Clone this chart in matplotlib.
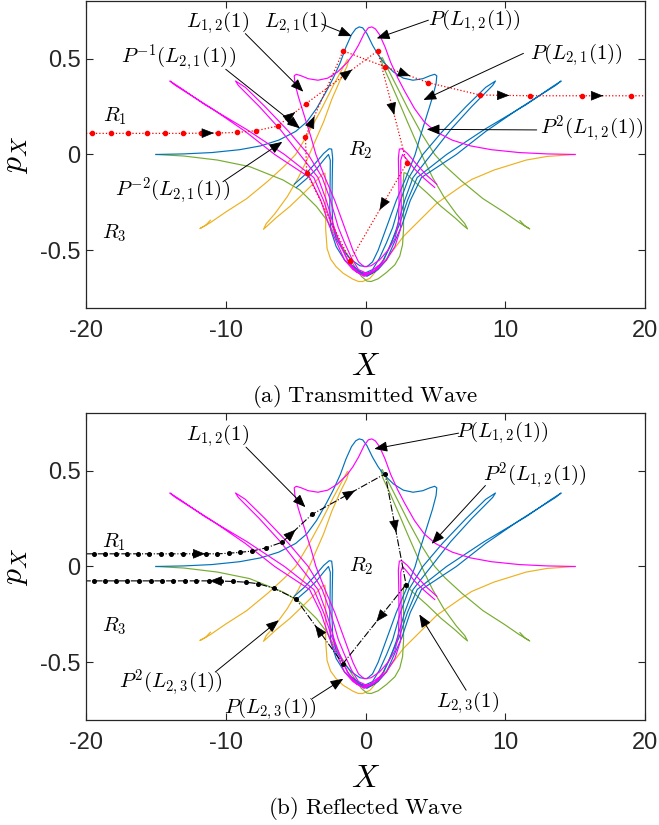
import matplotlib
matplotlib.use("Agg")
import matplotlib.pyplot as plt

plt.rcParams['mathtext.fontset'] = 'cm'
plt.rcParams['font.family'] = ['Liberation Sans', 'DejaVu Sans']

# ---------------- data ----------------
x_ticks = [-20, -10, 0, 10, 20]
x_tick_labels = ['-20', '-10', '0', '10', '20']
y_ticks = [-0.5, 0, 0.5]
y_tick_labels = ['-0.5', '0', '0.5']

# blue manifold pieces
blue1_x = [-15.0, -13.0, -11.0, -9.0, -7.5, -6.2, -5.0, -4.2, -3.5, -2.8, -2.3, -1.8, -1.4, -1.0, -0.7, -0.45, -0.2, 0.1, 0.5, 0.9,
           1.3, 2.0, 2.7, 3.4, 4.1, 4.6, 4.95, 5.1, 5.05, 4.8, 4.5, 4.2, 3.9, 3.55, 2.9, 2.2, 1.7, 1.3, 0.9, 0.5,
           0.1, -0.4, -1.0, -1.6, -2.1, -2.35, -2.4, -2.38, -2.35, -2.42, -2.6, -3.0, -3.7, -4.4, -5.1]
blue1_p = [0.0, 0.003, 0.01, 0.025, 0.045, 0.075, 0.12, 0.17, 0.24, 0.33, 0.40, 0.48, 0.56, 0.625, 0.655, 0.665, 0.66, 0.63, 0.57, 0.52,
           0.48, 0.43, 0.398, 0.387, 0.395, 0.41, 0.418, 0.41, 0.37, 0.30, 0.23, 0.16, 0.09, 0.0, -0.12, -0.24, -0.34, -0.42, -0.5, -0.56,
           -0.585, -0.58, -0.55, -0.5, -0.44, -0.36, -0.25, -0.12, -0.02, 0.028, 0.03, 0.005, -0.055, -0.11, -0.155]
blue2_x = [-4.95, -4.2, -3.5, -2.95, -2.65, -2.52, -2.53, -2.56, -2.5, -2.1, -1.5, -0.8, -0.1, 0.5, 1.0, 1.5, 1.95, 2.5, 3.1, 4.1,
           5.5, 7.2, 8.6, 9.3, 9.1, 7.6, 6.1, 4.7, 3.4, 2.8, 2.2, 1.75, 1.2, 0.6, 0.15, -0.3]
blue2_p = [-0.172, -0.125, -0.075, -0.025, 0.0, -0.03, -0.13, -0.28, -0.39, -0.48, -0.55, -0.6, -0.62, -0.6, -0.54, -0.46, -0.38, -0.24, -0.12, 0.0,
           0.12, 0.25, 0.35, 0.383, 0.36, 0.25, 0.13, 0.0, -0.12, -0.24, -0.39, -0.48, -0.56, -0.61, -0.63, -0.62]
blue3_x = [-1.3, -0.6, 0.1, 0.7, 1.3, 1.9, 2.4, 3.0, 3.7, 5.8, 8.5, 11.5, 13.3, 14.0, 13.6, 11.0, 8.6, 6.5, 4.0, 3.2,
           2.6, 2.05, 1.5, 0.9, 0.3, -0.3, -0.9]
blue3_p = [-0.55, -0.61, -0.635, -0.61, -0.55, -0.45, -0.37, -0.24, -0.12, 0.0, 0.13, 0.26, 0.35, 0.383, 0.36, 0.24, 0.12, 0.0, -0.12, -0.24,
           -0.37, -0.46, -0.55, -0.6, -0.625, -0.615, -0.58]

# magenta manifold pieces
mag1_x = [15.0, 13.0, 11.0, 9.0, 7.5, 6.2, 5.0, 4.2, 3.5, 2.8, 2.3, 1.8, 1.4, 1.0, 0.7, 0.45, 0.2, -0.1, -0.5, -0.9,
          -1.3, -2.0, -2.7, -3.4, -4.1, -4.6, -4.95, -5.1, -5.05, -4.8, -4.5, -4.2, -3.9, -3.55, -2.9, -2.2, -1.7, -1.3, -0.9, -0.5,
          -0.1, 0.4, 1.0, 1.6, 2.1, 2.35, 2.4, 2.38, 2.35, 2.42, 2.6, 3.0, 3.7, 4.4, 5.1]
mag1_p = [0.0, 0.003, 0.01, 0.025, 0.045, 0.075, 0.12, 0.17, 0.24, 0.33, 0.40, 0.48, 0.56, 0.625, 0.655, 0.665, 0.66, 0.63, 0.57, 0.52,
          0.48, 0.43, 0.398, 0.387, 0.395, 0.41, 0.418, 0.41, 0.37, 0.30, 0.23, 0.16, 0.09, 0.0, -0.12, -0.24, -0.34, -0.42, -0.5, -0.56,
          -0.585, -0.58, -0.55, -0.5, -0.44, -0.36, -0.25, -0.12, -0.02, 0.028, 0.03, 0.005, -0.055, -0.11, -0.155]
mag2_x = [4.95, 4.2, 3.5, 2.95, 2.65, 2.52, 2.53, 2.56, 2.5, 2.1, 1.5, 0.8, 0.1, -0.5, -1.0, -1.5, -1.95, -2.5, -3.1, -4.1,
          -5.5, -7.2, -8.6, -9.3, -9.1, -7.6, -6.1, -4.7, -3.4, -2.8, -2.2, -1.75, -1.2, -0.6, -0.15, 0.3]
mag2_p = [-0.172, -0.125, -0.075, -0.025, 0.0, -0.03, -0.13, -0.28, -0.39, -0.48, -0.55, -0.6, -0.62, -0.6, -0.54, -0.46, -0.38, -0.24, -0.12, 0.0,
          0.12, 0.25, 0.35, 0.383, 0.36, 0.25, 0.13, 0.0, -0.12, -0.24, -0.39, -0.48, -0.56, -0.61, -0.63, -0.62]
mag3_x = [1.3, 0.6, -0.1, -0.7, -1.3, -1.9, -2.4, -3.0, -3.7, -5.8, -8.5, -11.5, -13.3, -14.0, -13.6, -11.0, -8.6, -6.5, -4.0, -3.2,
          -2.6, -2.05, -1.5, -0.9, -0.3, 0.3, 0.9]
mag3_p = [-0.55, -0.61, -0.635, -0.61, -0.55, -0.45, -0.37, -0.24, -0.12, 0.0, 0.13, 0.26, 0.35, 0.383, 0.36, 0.24, 0.12, 0.0, -0.12, -0.24,
          -0.37, -0.46, -0.55, -0.6, -0.625, -0.615, -0.58]

# green manifold
green_x = [-15.0, -13.0, -10.6, -8.3, -5.9, -4.7, -3.5, -2.78, -2.1, -1.5, -0.9, -0.3, 0.1, 0.4, 0.9, 1.5, 2.1, 2.45, 2.65,
           2.72, 2.72, 2.7, 2.75, 2.9, 3.4, 4.4, 5.4, 6.4, 7.0, 7.3, 7.1, 6.5, 5.6, 4.8, 4.2, 3.6, 3.0, 2.3, 1.7,
           1.25, 1.1, 1.2, 1.5, 2.2, 3.1, 4.0, 4.95, 5.7, 6.9, 8.4, 9.9, 11.0, 11.75, 11.4, 11.05]
green_p = [0.0, -0.008, -0.029, -0.063, -0.133, -0.185, -0.272, -0.341, -0.43, -0.5, -0.57, -0.635, -0.66, -0.662, -0.648, -0.615, -0.575, -0.53, -0.47,
           -0.39, -0.25, -0.14, -0.095, -0.098, -0.135, -0.2, -0.27, -0.33, -0.37, -0.388, -0.36, -0.31, -0.22, -0.12, -0.03, 0.07, 0.17, 0.29, 0.39,
           0.46, 0.5, 0.505, 0.46, 0.36, 0.23, 0.11, 0.0, -0.06, -0.14, -0.23, -0.30, -0.355, -0.388, -0.372, -0.345]
# yellow manifold
yellow_x = [15.0, 13.0, 11.5, 9.2, 7.6, 6.8, 5.1, 3.9, 2.7, 2.0, 1.04, 0.32, -0.2, -0.5, -0.9, -1.6, -2.1, -2.5, -2.75,
            -2.85, -2.85, -2.85, -2.9, -3.05, -3.5, -4.4, -5.4, -6.4, -7.0, -7.3, -7.1, -6.5, -5.6, -4.8, -4.2, -3.6, -3.0, -2.4, -1.8,
            -1.35, -1.2, -1.3, -1.6, -2.3, -3.2, -4.1, -5.0, -5.8, -7.0, -8.5, -10.0, -11.1, -11.85, -11.45, -11.1]
yellow_p = [0.0, -0.01, -0.029, -0.081, -0.13, -0.168, -0.254, -0.341, -0.428, -0.497, -0.584, -0.645, -0.662, -0.662, -0.65, -0.619, -0.585, -0.545, -0.49,
            -0.39, -0.25, -0.14, -0.098, -0.1, -0.135, -0.2, -0.27, -0.33, -0.37, -0.39, -0.36, -0.31, -0.22, -0.12, -0.03, 0.07, 0.17, 0.29, 0.39,
            0.455, 0.49, 0.495, 0.455, 0.36, 0.23, 0.11, 0.0, -0.06, -0.14, -0.23, -0.30, -0.355, -0.386, -0.37, -0.343]

# (a) transmitted trajectory
red_x = [-20.0, -19.55, -18.23, -16.97, -15.66, -14.37, -13.08, -11.8, -10.53, -9.17, -7.83, -6.29, -4.26, 0.87, 2.95, -1.1, -4.21, -4.3,
         -1.6, 1.4, 4.5, 8.2, 11.8, 15.5, 19.0, 20.0]
red_p = [0.11, 0.11, 0.11, 0.11, 0.11, 0.11, 0.11, 0.111, 0.112, 0.115, 0.124, 0.148, 0.265, 0.54, -0.046, -0.553, -0.095, 0.093,
         0.54, 0.457, 0.374, 0.31, 0.306, 0.306, 0.306, 0.306]
red_arrow_seg = [7, 11, 12, 13, 14, 17, 19, 21, 23]
red_arrow_frac = [0.75, 0.62, 0.645, 0.57, 0.48, 0.24, 0.58, 0.58, 0.43]

# (b) reflected trajectory
blk_x = [-20.0, -19.42, -18.63, -17.86, -17.04, -16.27, -15.48, -14.66, -13.89, -13.07, -12.25, -11.43, -10.6, -9.78, -8.96, -8.14, -7.12,
         -5.95, -3.84, 1.4, 2.9, -1.62, -4.99, -6.58, -7.67, -8.55, -9.45, -10.33, -11.2, -12.1, -12.93, -13.75, -14.58, -15.34,
         -16.22, -17.04, -17.86, -18.63, -19.42, -20.0]
blk_p = [0.066, 0.066, 0.066, 0.066, 0.066, 0.066, 0.066, 0.066, 0.066, 0.066, 0.066, 0.066, 0.066, 0.069, 0.074, 0.080, 0.097,
         0.127, 0.271, 0.483, -0.094, -0.507, -0.168, -0.113, -0.09, -0.082, -0.078, -0.076, -0.075, -0.075, -0.075, -0.075, -0.075, -0.075,
         -0.075, -0.075, -0.075, -0.075, -0.075, -0.075]
blk_arrow_seg = [10, 17, 18, 19, 20, 21, 27]
blk_arrow_frac = [0.95, 0.45, 0.59, 0.53, 0.47, 0.59, 0.95]

# annotations: (text, text_x, text_p, arrow_from_x, arrow_from_p, arrow_to_x, arrow_to_p)
labels_a = [
    (r'$L_{1,2}(1)$', -10.6, 0.69, -8.6, 0.63, -4.45, 0.327),
    (r'$L_{2,1}(1)$', -5.0, 0.69, -3.13, 0.68, -0.99, 0.617),
    (r'$P(L_{1,2}(1))$', 7.8, 0.70, 4.5, 0.70, 0.8, 0.605),
    (r'$P^{-1}(L_{2,1}(1))$', -13.4, 0.50, -10.0, 0.444, -4.69, 0.136),
    (r'$P(L_{2,1}(1))$', 15.1, 0.52, 11.3, 0.527, 4.14, 0.284),
    (r'$P^{2}(L_{1,2}(1))$', 16.2, 0.128, 12.25, 0.128, 4.38, 0.131),
    (r'$P^{-2}(L_{2,1}(1))$', -13.8, -0.195, -10.2, -0.142, -5.95, 0.066),
]
regions_a = [(r'$R_1$', -17.9, 0.20), (r'$R_2$', -0.4, 0.023), (r'$R_3$', -18.0, -0.41)]
labels_b = [
    (r'$L_{1,2}(1)$', -10.6, 0.68, -8.55, 0.622, -4.3, 0.309),
    (r'$P(L_{1,2}(1))$', 9.8, 0.70, 6.66, 0.695, 0.63, 0.613),
    (r'$P^{2}(L_{1,2}(1))$', 12.1, 0.47, 8.58, 0.422, 4.74, 0.118),
    (r'$P^{2}(L_{2,3}(1))$', -13.9, -0.61, -10.75, -0.55, -6.2, -0.28),
    (r'$P(L_{2,3}(1))$', -6.8, -0.74, -3.82, -0.689, -1.59, -0.585),
    (r'$L_{2,3}(1)$', 7.3, -0.71, 7.2, -0.645, 3.85, -0.25),
]
regions_b = [(r'$R_1$', -18.0, 0.128), (r'$R_2$', -0.33, 0.0), (r'$R_3$', -18.0, -0.31)]

# ---------------- drawing ----------------
BLUE = '#0072BD'
MAGENTA = '#FF00FF'
YELLOW = '#EDB120'
GREEN = '#77AC30'
AXC = '#262626'
LW = 0.85

curves = [(yellow_x, yellow_p, YELLOW), (green_x, green_p, GREEN),
          (blue1_x, blue1_p, BLUE), (blue2_x, blue2_p, BLUE), (blue3_x, blue3_p, BLUE),
          (mag1_x, mag1_p, MAGENTA), (mag2_x, mag2_p, MAGENTA), (mag3_x, mag3_p, MAGENTA)]

fig = plt.figure(figsize=(6.59, 8.25), dpi=100)
ax_a = fig.add_axes([0.1305, 0.6267, 0.8483, 0.3721])
ax_b = fig.add_axes([0.1305, 0.1273, 0.8483, 0.3721])

HEAD = '-|>,head_length=0.75,head_width=0.3'


def head(ax, x0, y0, x1, y1):
    ax.annotate('', xy=(x1, y1), xytext=(x0, y0),
                arrowprops=dict(arrowstyle=HEAD, color='k', lw=0.5, shrinkA=0, shrinkB=0, mutation_scale=10.5))


def path_arrows(ax, xs, ps, segs, fracs):
    for s, f in zip(segs, fracs):
        x0, p0, x1, p1 = xs[s], ps[s], xs[s + 1], ps[s + 1]
        tx, tp = x0 + f * (x1 - x0), p0 + f * (p1 - p0)
        bx, bp = tx - 0.02 * (x1 - x0), tp - 0.02 * (p1 - p0)
        head(ax, bx, bp, tx, tp)


def style(ax, caption, cap_y):
    ax.set_xlim(-20, 20)
    ax.set_ylim(-0.8, 0.8)
    ax.set_xticks(x_ticks)
    ax.set_xticklabels(x_tick_labels)
    ax.set_yticks(y_ticks)
    ax.set_yticklabels(y_tick_labels)
    ax.tick_params(direction='in', length=5, width=0.8, top=True, right=True,
                   labelsize=17, colors=AXC)
    ax.tick_params(axis='x', pad=9)
    ax.tick_params(axis='y', pad=4)
    for s in ax.spines.values():
        s.set_color(AXC)
        s.set_linewidth(0.9)
    ax.set_xlabel(r'$X$', fontsize=23)
    ax.xaxis.set_label_coords(0.5, -0.145)
    ax.set_ylabel(r'$p_X$', fontsize=23)
    ax.yaxis.set_label_coords(-0.1, 0.5)
    fig.text(0.5546, cap_y, caption, ha='center', va='center', fontsize=16.5)


def annotate_labels(ax, labels, regions):
    for txt, tx, tp, fx, fp, ax_, ap in labels:
        ax.text(tx, tp, txt, ha='center', va='center', fontsize=15)
        ax.annotate('', xy=(ax_, ap), xytext=(fx, fp),
                    arrowprops=dict(arrowstyle=HEAD, color='k', lw=0.7, shrinkA=0, shrinkB=0, mutation_scale=10.5))
    for txt, tx, tp in regions:
        ax.text(tx, tp, txt, ha='center', va='center', fontsize=15)


for ax in (ax_a, ax_b):
    for xs, ps, c in curves:
        ax.plot(xs, ps, color=c, lw=LW)

# (a) trajectory
ax_a.plot(red_x, red_p, color='red', lw=0.9, ls=':', marker='o', markersize=3,
          markevery=list(range(1, len(red_x) - 1)))
path_arrows(ax_a, red_x, red_p, red_arrow_seg, red_arrow_frac)
annotate_labels(ax_a, labels_a, regions_a)

# (b) trajectory
ax_b.plot(blk_x, blk_p, color='k', lw=0.8, ls='-.', marker='o', markersize=2.6,
          markevery=list(range(1, len(blk_x) - 1)))
path_arrows(ax_b, blk_x, blk_p, blk_arrow_seg, blk_arrow_frac)
annotate_labels(ax_b, labels_b, regions_b)

style(ax_a, r'$\mathrm{(a)\ Transmitted\ Wave}$', 0.5192)
style(ax_b, r'$\mathrm{(b)\ Reflected\ Wave}$', 0.0198)

fig.savefig('out.png', dpi=100)
